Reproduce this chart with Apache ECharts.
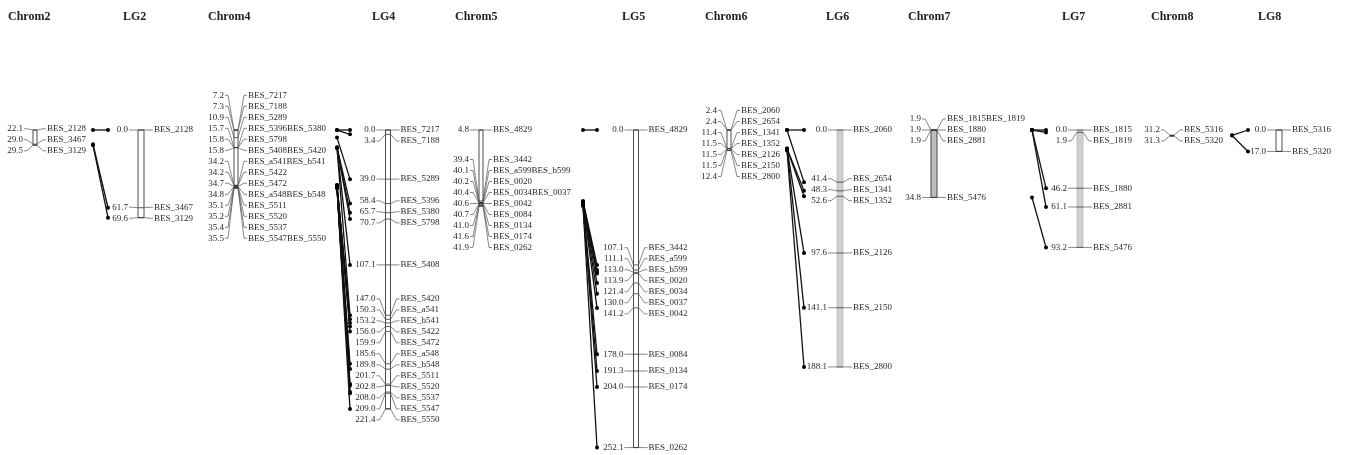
<!DOCTYPE html>
<html>
<head>
<meta charset="utf-8">
<title>Chromosome vs linkage group maps</title>
<script src="https://cdn.jsdelivr.net/npm/echarts@6/dist/echarts.min.js"></script>
<style>
  html, body { margin: 0; padding: 0; background: #ffffff; }
  #chart { width: 1345px; height: 455px; }
</style>
</head>
<body>
<div id="chart"></div>
<script>
// ---- map data -------------------------------------------------------------
// Physical maps: one entry per label row (markers sharing a row are listed together), positions in Mb.
// Linkage groups: one entry per marker, positions in cM.

const mapTitles = ['Chrom2', 'LG2', 'Chrom4', 'LG4', 'Chrom5', 'LG5',
                   'Chrom6', 'LG6', 'Chrom7', 'LG7', 'Chrom8', 'LG8'];

const chrom2Rows = [['BES_2128'], ['BES_3467'], ['BES_3129']];
const chrom2Pos = [22.1, 29.0, 29.5];
const lg2Markers = ['BES_2128', 'BES_3467', 'BES_3129'];
const lg2Pos = [0.0, 61.7, 69.6];

const chrom4Rows = [['BES_7217'], ['BES_7188'], ['BES_5289'], ['BES_5396', 'BES_5380'], ['BES_5798'],
                    ['BES_5408', 'BES_5420'], ['BES_a541', 'BES_b541'], ['BES_5422'], ['BES_5472'],
                    ['BES_a548', 'BES_b548'], ['BES_5511'], ['BES_5520'], ['BES_5537'], ['BES_5547', 'BES_5550']];
const chrom4Pos = [7.2, 7.3, 10.9, 15.7, 15.8, 15.8, 34.2, 34.2, 34.7, 34.8, 35.1, 35.2, 35.4, 35.5];
const lg4Markers = ['BES_7217', 'BES_7188', 'BES_5289', 'BES_5396', 'BES_5380', 'BES_5798', 'BES_5408',
                    'BES_5420', 'BES_a541', 'BES_b541', 'BES_5422', 'BES_5472', 'BES_a548', 'BES_b548',
                    'BES_5511', 'BES_5520', 'BES_5537', 'BES_5547', 'BES_5550'];
const lg4Pos = [0.0, 3.4, 39.0, 58.4, 65.7, 70.7, 107.1, 147.0, 150.3, 153.2, 156.0, 159.9,
                185.6, 189.8, 201.7, 202.8, 208.0, 209.0, 221.4];

const chrom5Rows = [['BES_4829'], ['BES_3442'], ['BES_a599', 'BES_b599'], ['BES_0020'], ['BES_0034', 'BES_0037'],
                    ['BES_0042'], ['BES_0084'], ['BES_0134'], ['BES_0174'], ['BES_0262']];
const chrom5Pos = [4.8, 39.4, 40.1, 40.2, 40.4, 40.6, 40.7, 41.0, 41.6, 41.9];
const lg5Markers = ['BES_4829', 'BES_3442', 'BES_a599', 'BES_b599', 'BES_0020', 'BES_0034', 'BES_0037',
                    'BES_0042', 'BES_0084', 'BES_0134', 'BES_0174', 'BES_0262'];
const lg5Pos = [0.0, 107.1, 111.1, 113.0, 113.9, 121.4, 130.0, 141.2, 178.0, 191.3, 204.0, 252.1];

const chrom6Rows = [['BES_2060'], ['BES_2654'], ['BES_1341'], ['BES_1352'], ['BES_2126'], ['BES_2150'], ['BES_2800']];
const chrom6Pos = [2.4, 2.4, 11.4, 11.5, 11.5, 11.5, 12.4];
const lg6Markers = ['BES_2060', 'BES_2654', 'BES_1341', 'BES_1352', 'BES_2126', 'BES_2150', 'BES_2800'];
const lg6Pos = [0.0, 41.4, 48.3, 52.6, 97.6, 141.1, 188.1];

const chrom7Rows = [['BES_1815', 'BES_1819'], ['BES_1880'], ['BES_2881'], ['BES_5476']];
const chrom7Pos = [1.9, 1.9, 1.9, 34.8];
const lg7Markers = ['BES_1815', 'BES_1819', 'BES_1880', 'BES_2881', 'BES_5476'];
const lg7Pos = [0.0, 1.9, 46.2, 61.1, 93.2];

const chrom8Rows = [['BES_5316'], ['BES_5320']];
const chrom8Pos = [31.2, 31.3];
const lg8Markers = ['BES_5316', 'BES_5320'];
const lg8Pos = [0.0, 17.0];

// ---- layout ---------------------------------------------------------------
const TOP = 130;            // pixel row where every axis starts
const AXIS_HEIGHT = 322.5;  // pixel length of every axis
const LG_SPAN = 256;        // cM covered by an LG axis        (~1.26 px / cM)
const CHROM_SPAN = 157.3;   // Mb covered by a chromosome axis (~2.05 px / Mb)
const ROW_GAP = 11;         // vertical spacing of label rows
const LABEL_FONT = '9px "Liberation Serif", "DejaVu Serif", serif';
const TEXT_COLOR = '#2a2a2a';
const titleX = [8, 123, 208, 372, 455, 622, 705, 826, 908, 1062, 1151, 1258];

const WHITE_BAR = { fill: '#ffffff', stroke: '#3a3a3a' };
const GREY_BAR = { fill: '#cfcfcf', stroke: '#bdbdbd' };

const maps = [
  { kind: 'chrom', rows: chrom2Rows, pos: chrom2Pos, x: 35,   w: 4, bar: WHITE_BAR, axisMin: 22.1 },
  { kind: 'lg',    names: lg2Markers, pos: lg2Pos,   x: 141,  w: 6, bar: WHITE_BAR },
  { kind: 'chrom', rows: chrom4Rows, pos: chrom4Pos, x: 236,  w: 4, bar: WHITE_BAR, axisMin: 7.2 },
  { kind: 'lg',    names: lg4Markers, pos: lg4Pos,   x: 388,  w: 5, bar: WHITE_BAR },
  { kind: 'chrom', rows: chrom5Rows, pos: chrom5Pos, x: 481,  w: 4, bar: WHITE_BAR, axisMin: 4.8 },
  { kind: 'lg',    names: lg5Markers, pos: lg5Pos,   x: 636,  w: 5, bar: WHITE_BAR },
  { kind: 'chrom', rows: chrom6Rows, pos: chrom6Pos, x: 729,  w: 4, bar: WHITE_BAR, axisMin: 2.4 },
  { kind: 'lg',    names: lg6Markers, pos: lg6Pos,   x: 840,  w: 6, bar: GREY_BAR },
  { kind: 'chrom', rows: chrom7Rows, pos: chrom7Pos, x: 934,  w: 6, bar: { fill: '#bdbdbd', stroke: '#333333' }, axisMin: 1.9 },
  { kind: 'lg',    names: lg7Markers, pos: lg7Pos,   x: 1080, w: 6, bar: GREY_BAR },
  { kind: 'chrom', rows: chrom8Rows, pos: chrom8Pos, x: 1172, w: 4, bar: WHITE_BAR, axisMin: 28.6 },
  { kind: 'lg',    names: lg8Markers, pos: lg8Pos,   x: 1279, w: 6, bar: WHITE_BAR }
];

// chromosome -> linkage group links; x0 / x1 are the dot columns on each side
const links = [
  { chrom: 0,  lg: 1,  x0: 93,   x1: 108 },
  { chrom: 2,  lg: 3,  x0: 337,  x1: 350 },
  { chrom: 4,  lg: 5,  x0: 583,  x1: 597 },
  { chrom: 6,  lg: 7,  x0: 787,  x1: 804 },
  { chrom: 8,  lg: 9,  x0: 1032, x1: 1046 },
  { chrom: 10, lg: 11, x0: 1232, x1: 1248 }
];

// ---- helpers --------------------------------------------------------------
// Spread label rows so they never overlap: overlapping rows are merged into
// blocks centred on the mean of their marker positions.
function spreadRows(ys, gap, minY) {
  let groups = ys.map(y => ({ n: 1, sum: y }));
  const top = g => Math.max(g.sum / g.n - (g.n - 1) * gap / 2, minY);
  let changed = true;
  while (changed) {
    changed = false;
    for (let k = 0; k < groups.length - 1; k++) {
      const a = groups[k], b = groups[k + 1];
      if (top(b) < top(a) + a.n * gap - 0.01) {
        groups.splice(k, 2, { n: a.n + b.n, sum: a.sum + b.sum });
        changed = true;
        break;
      }
    }
  }
  const out = [];
  groups.forEach(g => { const t = top(g); for (let j = 0; j < g.n; j++) out.push(t + j * gap); });
  return out;
}

function rowName(m, i) {
  return m.kind === 'chrom' ? m.rows[i].join('') : m.names[i];
}

function renderMap(m) {
  return function (params, api) {
    const pts = m.pos.map(p => api.coord([0, p]));
    const x = pts[0][0];
    const ys = pts.map(p => p[1]);
    const rows = spreadRows(ys, ROW_GAP, m.kind === 'lg' ? ys[0] : -Infinity);
    const hw = m.w / 2;
    const kids = [{
      type: 'rect',
      shape: { x: x - hw, y: ys[0], width: m.w, height: Math.max(ys[ys.length - 1] - ys[0], 1) },
      style: { fill: m.bar.fill, stroke: m.bar.stroke, lineWidth: 0.9 }
    }];
    ys.forEach((y, i) => {
      const ly = rows[i];
      kids.push({ type: 'line', shape: { x1: x - hw, y1: y, x2: x + hw, y2: y },
                  style: { stroke: '#333', lineWidth: 0.8 } });
      kids.push({ type: 'polyline', shape: { points: [[x - hw, y], [x - hw - 6, ly], [x - hw - 9, ly]] },
                  style: { stroke: '#555', lineWidth: 0.7, fill: null } });
      kids.push({ type: 'polyline', shape: { points: [[x + hw, y], [x + hw + 6, ly], [x + hw + 9, ly]] },
                  style: { stroke: '#555', lineWidth: 0.7, fill: null } });
      kids.push({ type: 'text', style: { text: m.pos[i].toFixed(1), x: x - hw - 10, y: ly,
                  align: 'right', verticalAlign: 'middle', font: LABEL_FONT, fill: TEXT_COLOR } });
      kids.push({ type: 'text', style: { text: rowName(m, i), x: x + hw + 10, y: ly,
                  align: 'left', verticalAlign: 'middle', font: LABEL_FONT, fill: TEXT_COLOR } });
    });
    return { type: 'group', children: kids };
  };
}

function renderLinks(c) {
  return function (params, api) {
    const chrom = maps[c.chrom], lg = maps[c.lg];
    const kids = [];
    lg.names.forEach((name, j) => {
      const r = chrom.rows.findIndex(row => row.indexOf(name) >= 0);
      if (r < 0) return;
      const a = chart.convertToPixel({ xAxisIndex: c.chrom, yAxisIndex: c.chrom }, [0, chrom.pos[r]]);
      const b = api.coord([0, lg.pos[j]]);
      if (!a) return;
      kids.push({ type: 'line', shape: { x1: c.x0, y1: a[1], x2: c.x1, y2: b[1] },
                  style: { stroke: '#111', lineWidth: 1.3 } });
      kids.push({ type: 'circle', shape: { cx: c.x0, cy: a[1], r: 2 }, style: { fill: '#000' } });
      kids.push({ type: 'circle', shape: { cx: c.x1, cy: b[1], r: 2 }, style: { fill: '#000' } });
    });
    return { type: 'group', children: kids };
  };
}

// ---- chart ----------------------------------------------------------------
const chart = echarts.init(document.getElementById('chart'), null, { renderer: 'canvas' });

const option = {
  animation: false,
  backgroundColor: '#ffffff',
  title: mapTitles.map((t, i) => ({
    text: t, left: titleX[i], top: 11, padding: 0,
    textStyle: { fontFamily: '"Liberation Serif", serif', fontSize: 12, fontWeight: 'bold', color: '#222' }
  })),
  grid: maps.map(m => ({ left: m.x, top: TOP, width: 1, height: AXIS_HEIGHT, containLabel: false })),
  xAxis: maps.map((m, i) => ({ type: 'value', gridIndex: i, min: 0, max: 1, show: false })),
  yAxis: maps.map((m, i) => ({
    type: 'value', gridIndex: i, inverse: true, show: false,
    min: m.kind === 'lg' ? 0 : m.axisMin,
    max: m.kind === 'lg' ? LG_SPAN : m.axisMin + CHROM_SPAN
  })),
  series: [
    ...links.map(c => ({
      type: 'custom', xAxisIndex: c.lg, yAxisIndex: c.lg, silent: true, clip: false, z: 1,
      data: [[0, 0]], renderItem: renderLinks(c)
    })),
    ...maps.map((m, i) => ({
      type: 'custom', xAxisIndex: i, yAxisIndex: i, silent: true, clip: false, z: 2,
      data: [[0, 0]], renderItem: renderMap(m)
    }))
  ]
};

chart.setOption(option);
</script>
</body>
</html>
